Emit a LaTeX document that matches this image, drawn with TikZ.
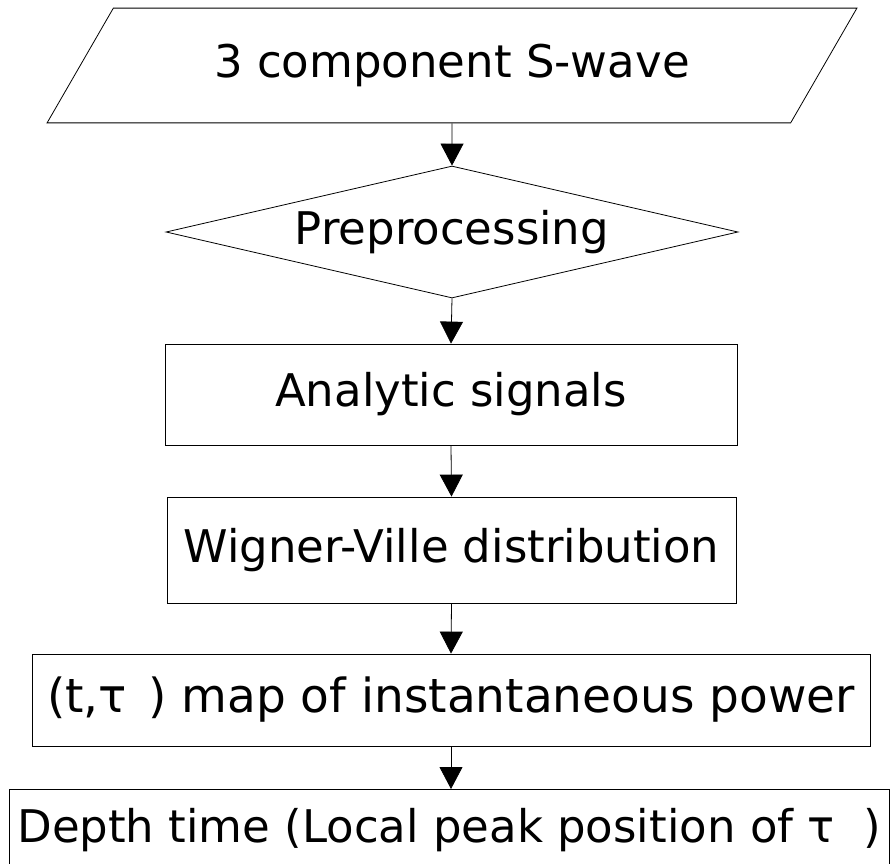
\documentclass[tikz,border=0pt]{standalone}
\usepackage{fontspec}
\setmainfont{DejaVu Sans}
\usetikzlibrary{shapes.geometric, arrows.meta}

\begin{document}
\begin{tikzpicture}[x=1pt, y=-1pt,
    box/.style={draw, line width=0.8pt, inner sep=0pt,
                font=\fontsize{45}{54}\selectfont},
    flow/.style={-{Triangle[width=23pt, length=22pt]}, line width=0.8pt}]
    \useasboundingbox (0,0) rectangle (891,863);

    %% input and preprocessing
    \node[box, trapezium, trapezium left angle=60, trapezium right angle=120,
          inner xsep=101pt, inner ysep=36pt]
      (wave) at (452,65.5) {3 component S-wave};
    \node[box, diamond, aspect=4.3, minimum width=572pt, minimum height=132pt]
      (prep) at (452,232) {Preprocessing};

    %% processing steps
    \node[box, minimum width=572pt, minimum height=101pt]
      (signal) at (451,394.5) {Analytic signals};
    \node[box, minimum width=569pt, minimum height=106pt]
      (wigner) at (451.5,550) {Wigner-Ville distribution};
    \node[box, minimum width=838pt, minimum height=92pt,
          font=\fontsize{47}{56}\selectfont]
      (powermap) at (451,700) {(t,τ\hspace{0.45em}) map of instantaneous power};

    %% result, runs off the page
    \node[box, anchor=north west, inner xsep=8pt, inner ysep=19pt, text depth=40pt]
      (depth) at (9,789) {Depth time (Local peak position of τ~~)};

    \draw[flow] (wave.south) -- (prep.north);
    \draw[flow] (prep.south) -- (signal.north);
    \draw[flow] (signal.south) -- (wigner.north);
    \draw[flow] (wigner.south) -- (powermap.north);
    \draw[flow] (powermap.south) -- (powermap.south |- depth.north);
\end{tikzpicture}
\end{document}
